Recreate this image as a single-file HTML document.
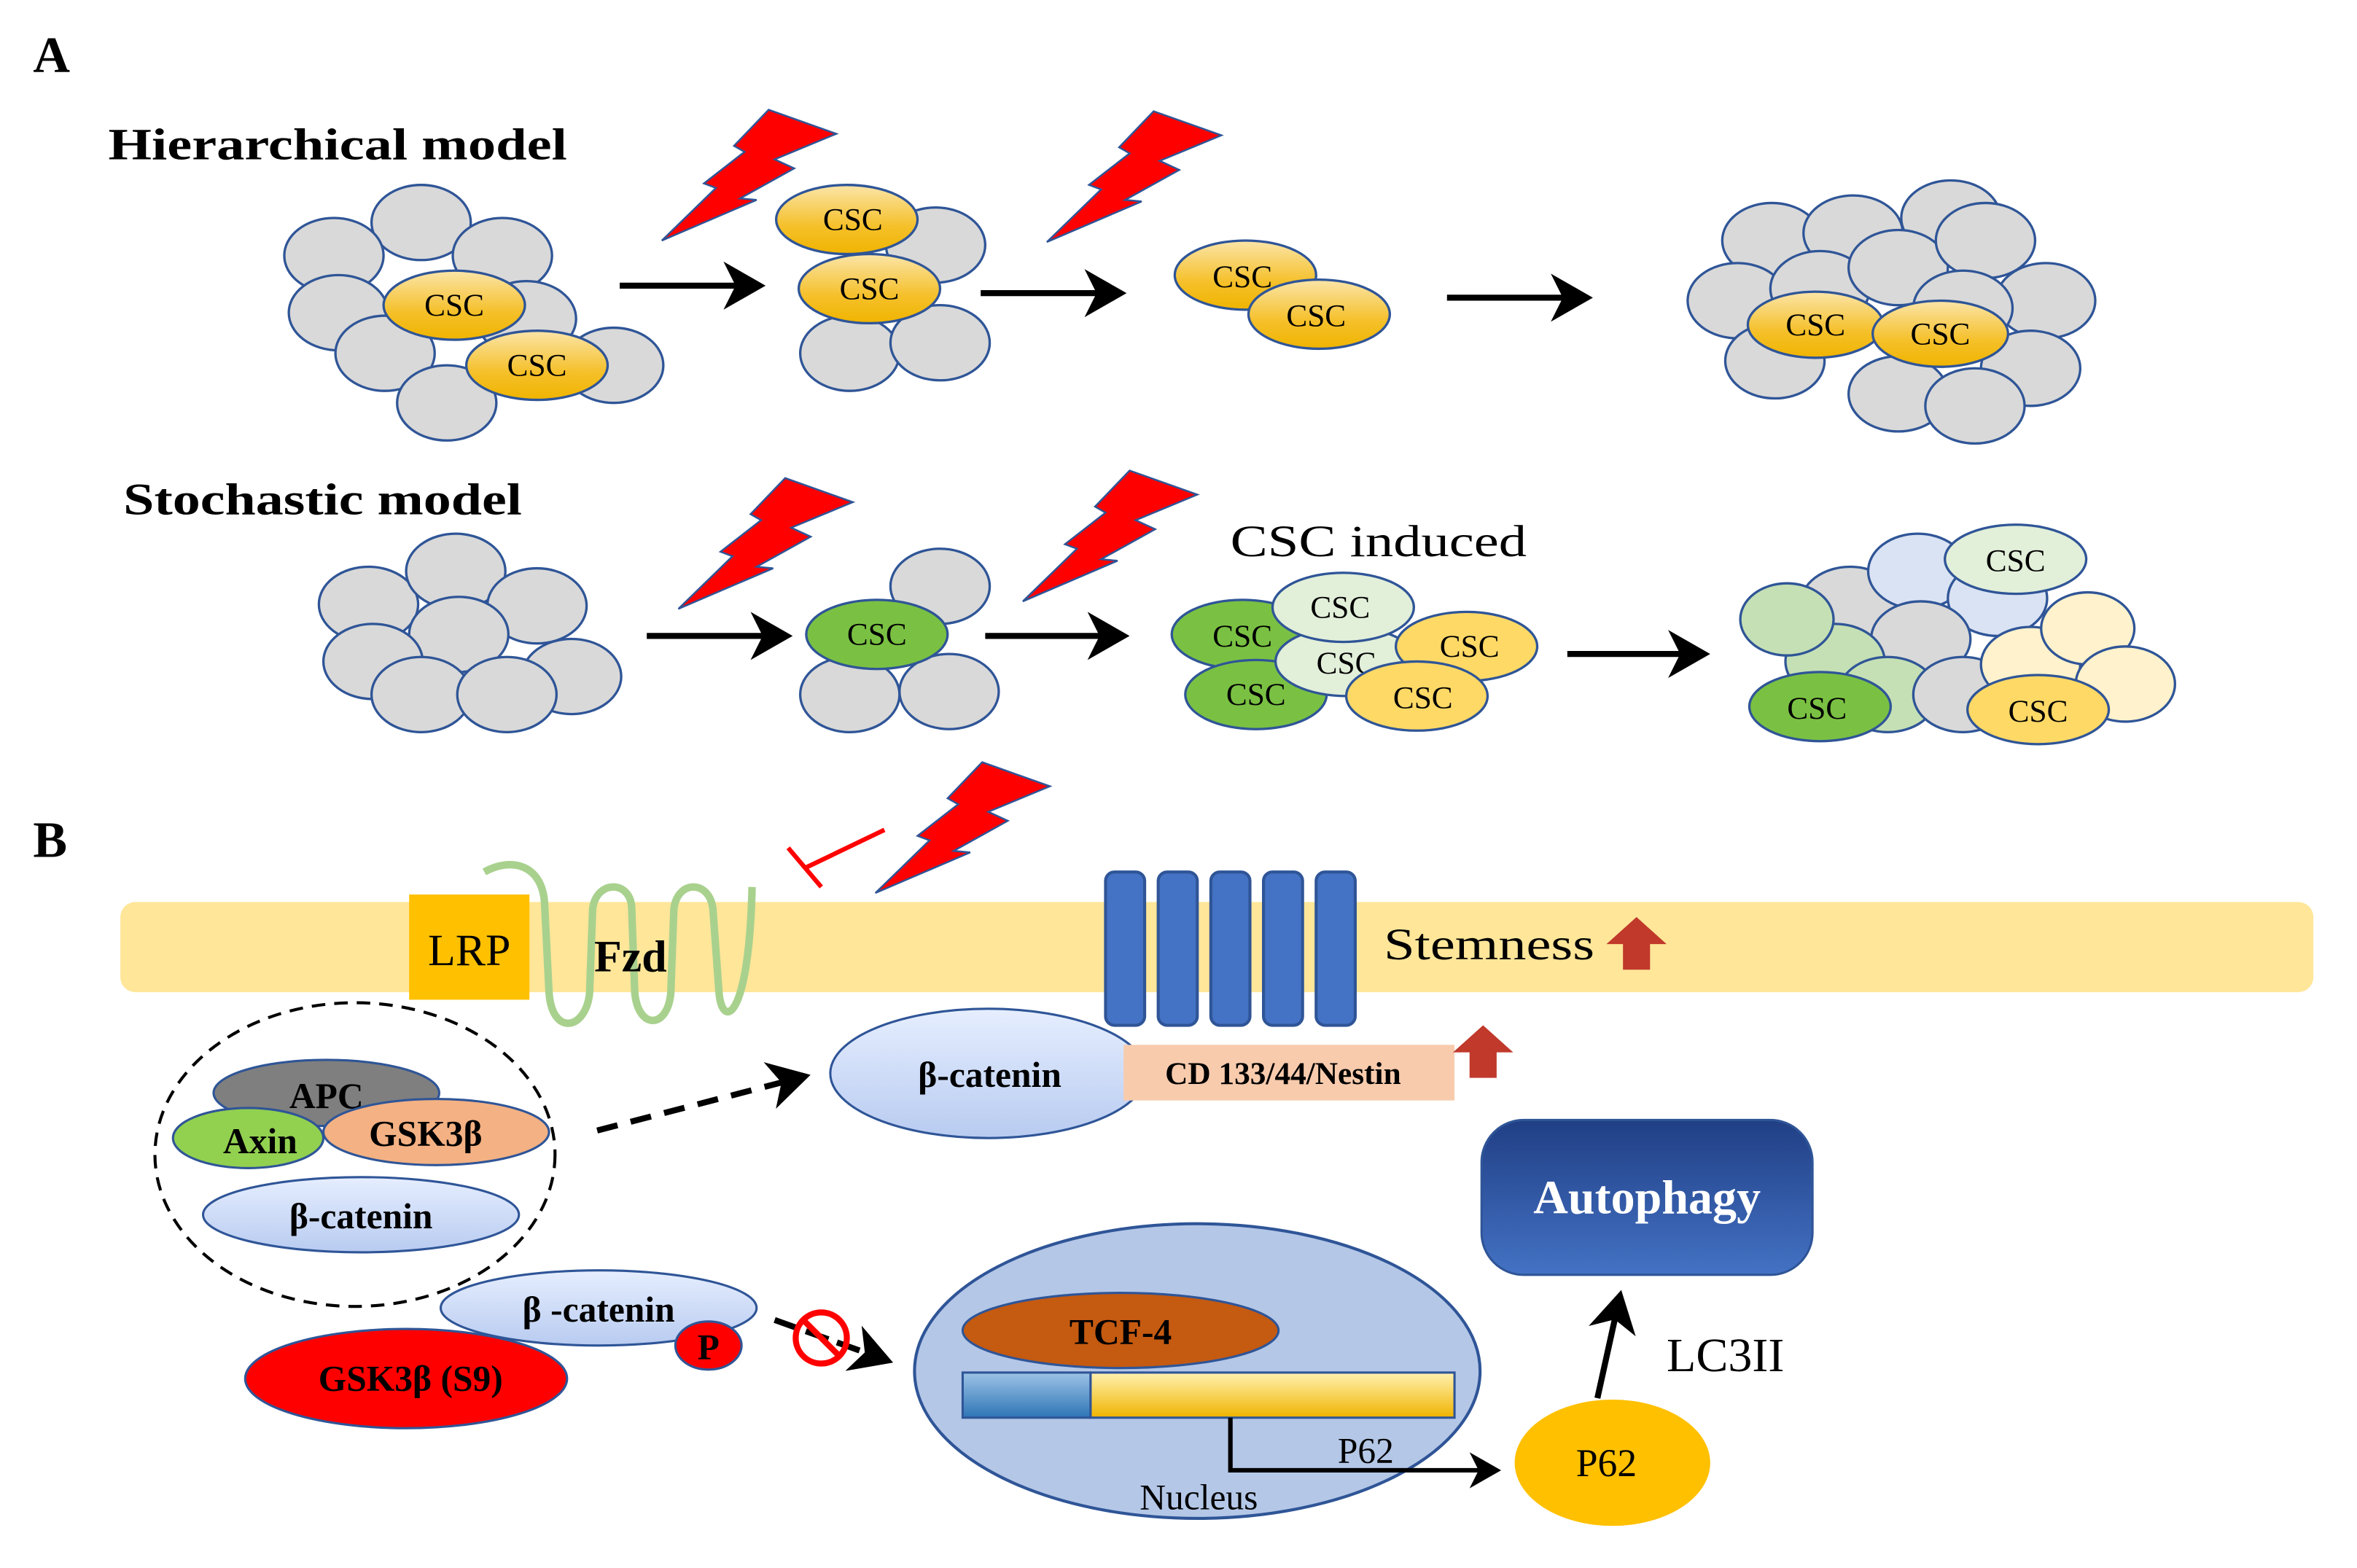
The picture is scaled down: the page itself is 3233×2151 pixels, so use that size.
<!DOCTYPE html>
<html><head><meta charset="utf-8"><style>
html,body{margin:0;padding:0;background:#fff;}
svg{display:block;}
text{font-family:"Liberation Serif",serif;}
</style></head><body>
<svg width="3233" height="2151" viewBox="0 0 1567 1043" preserveAspectRatio="none" xmlns="http://www.w3.org/2000/svg">
<defs>
<linearGradient id="csc" x1="0" y1="0" x2="0" y2="1"><stop offset="0" stop-color="#fbe5a8"/><stop offset="0.6" stop-color="#f5c02a"/><stop offset="1" stop-color="#f0b400"/></linearGradient>
<linearGradient id="bc" x1="0" y1="0" x2="0" y2="1"><stop offset="0" stop-color="#e6eeff"/><stop offset="1" stop-color="#b8cbf0"/></linearGradient>
<linearGradient id="auto" x1="0" y1="0" x2="0" y2="1"><stop offset="0" stop-color="#203f85"/><stop offset="1" stop-color="#4472c4"/></linearGradient>
<linearGradient id="bar" x1="0" y1="0" x2="0" y2="1"><stop offset="0" stop-color="#fff2b0"/><stop offset="1" stop-color="#f0b400"/></linearGradient>
<linearGradient id="barb" x1="0" y1="0" x2="0" y2="1"><stop offset="0" stop-color="#9dc3e6"/><stop offset="1" stop-color="#2e75b6"/></linearGradient>
<marker id="ah" markerWidth="8" markerHeight="8" refX="6" refY="4" orient="auto" markerUnits="strokeWidth"><path d="M0,0 L7,4 L0,8 L2,4 Z" fill="#000"/></marker>
<g id="bolt"><path d="M71,0 L116,16 L75,33 L88,39 L52,59 L63,60 L0,87 L36,52 L28,49 L55,28 L48,24 Z" fill="#ff0000" stroke="#2f5597" stroke-width="1.2" stroke-linejoin="miter"/></g>
</defs>
<style>
.g{fill:#d9d9d9;stroke:#2f5597;stroke-width:1.6}
.c{fill:url(#csc);stroke:#2f5597;stroke-width:1.6}
.gr{fill:#7ac143;stroke:#2f5597;stroke-width:1.6}
.pg{fill:#e2efd9;stroke:#2f5597;stroke-width:1.6}
.lg{fill:#c5e0b4;stroke:#2f5597;stroke-width:1.6}
.lb{fill:#dae3f3;stroke:#2f5597;stroke-width:1.6}
.py{fill:#fff2cc;stroke:#2f5597;stroke-width:1.6}
.y{fill:#ffd966;stroke:#2f5597;stroke-width:1.6}
.t{font-size:21px;text-anchor:middle}
.ar{stroke:#000;stroke-width:4;fill:none;marker-end:url(#ah)}
</style>
<text x="22" y="48" font-size="34" font-weight="bold">A</text>
<text x="72" y="106" font-size="30" font-weight="bold" textLength="305" lengthAdjust="spacingAndGlyphs">Hierarchical model</text>
<text x="82" y="342" font-size="30" font-weight="bold" textLength="265" lengthAdjust="spacingAndGlyphs">Stochastic model</text>

<g>
<ellipse class="g" cx="280" cy="148" rx="33" ry="25"/><ellipse class="g" cx="222" cy="170" rx="33" ry="25"/><ellipse class="g" cx="334" cy="170" rx="33" ry="25"/>
<ellipse class="g" cx="350" cy="212" rx="33" ry="25"/><ellipse class="g" cx="225" cy="208" rx="33" ry="25"/><ellipse class="g" cx="256" cy="235" rx="33" ry="25"/>
<ellipse class="g" cx="408" cy="243" rx="33" ry="25"/><ellipse class="g" cx="297" cy="268" rx="33" ry="25"/>
<ellipse class="c" cx="302" cy="203" rx="47" ry="23"/><text class="t" x="302" y="210">CSC</text>
<ellipse class="c" cx="357" cy="243" rx="47" ry="23"/><text class="t" x="357" y="250">CSC</text>
</g>
<line class="ar" x1="412" y1="190" x2="505" y2="190"/>
<use href="#bolt" x="440" y="73"/>
<ellipse class="g" cx="622" cy="163" rx="33" ry="25"/><ellipse class="g" cx="565" cy="235" rx="33" ry="25"/><ellipse class="g" cx="625" cy="228" rx="33" ry="25"/>
<ellipse class="c" cx="563" cy="146" rx="47" ry="23"/><text class="t" x="567" y="153">CSC</text>
<ellipse class="c" cx="578" cy="192" rx="47" ry="23"/><text class="t" x="578" y="199">CSC</text>
<line class="ar" x1="652" y1="195" x2="745" y2="195"/>
<use href="#bolt" x="696" y="74"/>
<ellipse class="c" cx="828" cy="183" rx="47" ry="23"/><text class="t" x="826" y="191">CSC</text>
<ellipse class="c" cx="877" cy="209" rx="47" ry="23"/><text class="t" x="875" y="217">CSC</text>
<line class="ar" x1="962" y1="198" x2="1055" y2="198"/>
<g>
<ellipse class="g" cx="1178" cy="160" rx="33" ry="25"/><ellipse class="g" cx="1232" cy="155" rx="33" ry="25"/><ellipse class="g" cx="1297" cy="145" rx="33" ry="25"/>
<ellipse class="g" cx="1155" cy="200" rx="33" ry="25"/><ellipse class="g" cx="1210" cy="192" rx="33" ry="25"/><ellipse class="g" cx="1262" cy="178" rx="33" ry="25"/>
<ellipse class="g" cx="1320" cy="160" rx="33" ry="25"/><ellipse class="g" cx="1360" cy="200" rx="33" ry="25"/><ellipse class="g" cx="1305" cy="205" rx="33" ry="25"/>
<ellipse class="g" cx="1180" cy="240" rx="33" ry="25"/><ellipse class="g" cx="1350" cy="245" rx="33" ry="25"/><ellipse class="g" cx="1262" cy="262" rx="33" ry="25"/>
<ellipse class="g" cx="1313" cy="270" rx="33" ry="25"/>
<ellipse class="c" cx="1207" cy="216" rx="45" ry="22"/><text class="t" x="1207" y="223">CSC</text>
<ellipse class="c" cx="1290" cy="222" rx="45" ry="22"/><text class="t" x="1290" y="229">CSC</text>
</g>

<g>
<ellipse class="g" cx="245" cy="402" rx="33" ry="25"/><ellipse class="g" cx="303" cy="380" rx="33" ry="25"/><ellipse class="g" cx="357" cy="403" rx="33" ry="25"/>
<ellipse class="g" cx="305" cy="422" rx="33" ry="25"/><ellipse class="g" cx="248" cy="440" rx="33" ry="25"/><ellipse class="g" cx="380" cy="450" rx="33" ry="25"/>
<ellipse class="g" cx="280" cy="462" rx="33" ry="25"/><ellipse class="g" cx="337" cy="462" rx="33" ry="25"/>
</g>
<line class="ar" x1="430" y1="423" x2="523" y2="423"/>
<use href="#bolt" x="451" y="318"/>
<ellipse class="g" cx="625" cy="390" rx="33" ry="25"/><ellipse class="g" cx="565" cy="462" rx="33" ry="25"/><ellipse class="g" cx="631" cy="460" rx="33" ry="25"/>
<ellipse class="gr" cx="583" cy="422" rx="47" ry="23"/><text class="t" x="583" y="429">CSC</text>
<line class="ar" x1="655" y1="423" x2="747" y2="423"/>
<use href="#bolt" x="680" y="313"/>
<text x="818" y="370" font-size="30" textLength="197" lengthAdjust="spacingAndGlyphs">CSC induced</text>
<ellipse class="gr" cx="826" cy="422" rx="47" ry="23"/><text class="t" x="826" y="430">CSC</text>
<ellipse class="gr" cx="835" cy="462" rx="47" ry="23"/><text class="t" x="835" y="469">CSC</text>
<ellipse class="pg" cx="895" cy="440" rx="47" ry="23"/><text class="t" x="895" y="448">CSC</text>
<ellipse class="pg" cx="893" cy="404" rx="47" ry="23"/><text class="t" x="891" y="411">CSC</text>
<ellipse class="y" cx="975" cy="430" rx="47" ry="23"/><text class="t" x="977" y="437">CSC</text>
<ellipse class="y" cx="942" cy="463" rx="47" ry="23"/><text class="t" x="946" y="471">CSC</text>
<line class="ar" x1="1042" y1="435" x2="1133" y2="435"/>
<g>
<ellipse class="g" cx="1230" cy="402" rx="33" ry="25"/><ellipse class="lb" cx="1275" cy="380" rx="33" ry="25"/><ellipse class="lb" cx="1328" cy="398" rx="33" ry="25"/>
<ellipse class="g" cx="1277" cy="425" rx="33" ry="25"/><ellipse class="lg" cx="1220" cy="440" rx="33" ry="25"/><ellipse class="lg" cx="1255" cy="462" rx="33" ry="25"/>
<ellipse class="g" cx="1305" cy="462" rx="33" ry="25"/><ellipse class="py" cx="1350" cy="442" rx="33" ry="25"/>
<ellipse class="py" cx="1388" cy="418" rx="31" ry="24"/><ellipse class="py" cx="1413" cy="455" rx="33" ry="25"/>
<ellipse class="lg" cx="1188" cy="412" rx="31" ry="24"/>
<ellipse class="pg" cx="1340" cy="372" rx="47" ry="23"/><text class="t" x="1340" y="380">CSC</text>
<ellipse class="gr" cx="1210" cy="470" rx="47" ry="23"/><text class="t" x="1208" y="478">CSC</text>
<ellipse class="y" cx="1355" cy="472" rx="47" ry="23"/><text class="t" x="1355" y="480">CSC</text>
</g>

<text x="22" y="570" font-size="34" font-weight="bold">B</text>
<rect x="80" y="600" width="1458" height="60" rx="10" fill="#ffe699"/>
<rect x="272" y="595" width="80" height="70" fill="#ffc000"/>
<text x="312" y="642" font-size="30" text-anchor="middle">LRP</text>
<path d="M322,580 C340,570 360,575 362,600 L365,660 C367,690 390,685 392,660 L394,605 C396,585 420,585 420,605 L422,660 C424,685 444,685 446,660 L448,605 C450,585 472,585 474,605 L478,660 C480,685 498,680 500,590" fill="none" stroke="#a9d18e" stroke-width="5"/>
<text x="395" y="646" font-size="30" font-weight="bold">Fzd</text>
<g fill="none" stroke="#ff0000" stroke-width="3"><line x1="536" y1="577" x2="588" y2="552"/><line x1="524" y1="564" x2="546" y2="590"/></g>
<use href="#bolt" x="582" y="507"/>
<g fill="#4472c4" stroke="#2f5597" stroke-width="2">
<rect x="735" y="580" width="26" height="102" rx="6"/><rect x="770" y="580" width="26" height="102" rx="6"/><rect x="805" y="580" width="26" height="102" rx="6"/><rect x="840" y="580" width="26" height="102" rx="6"/><rect x="875" y="580" width="26" height="102" rx="6"/>
</g>
<text x="920" y="638" font-size="30" textLength="140" lengthAdjust="spacingAndGlyphs">Stemness</text>
<path d="M1088,610 L1108,628 L1097,628 L1097,645 L1079,645 L1079,628 L1068,628 Z" fill="#c0392b"/>
<ellipse cx="236" cy="768" rx="133" ry="101" fill="none" stroke="#000" stroke-width="2" stroke-dasharray="9,6"/>
<ellipse cx="217" cy="727" rx="75" ry="22" fill="#7f7f7f" stroke="#2f5597" stroke-width="1.5"/>
<text x="217" y="737" font-size="24" font-weight="bold" text-anchor="middle">APC</text>
<ellipse cx="165" cy="757" rx="50" ry="20" fill="#92d050" stroke="#2f5597" stroke-width="1.5"/>
<ellipse cx="290" cy="753" rx="75" ry="22" fill="#f4b183" stroke="#2f5597" stroke-width="1.5"/>
<text x="173" y="767" font-size="24" font-weight="bold" text-anchor="middle">Axin</text>
<text x="283" y="762" font-size="24" font-weight="bold" text-anchor="middle">GSK3β</text>
<ellipse cx="240" cy="808" rx="105" ry="25" fill="url(#bc)" stroke="#2f5597" stroke-width="1.5"/>
<text x="240" y="817" font-size="24" font-weight="bold" text-anchor="middle">β-catenin</text>
<line x1="397" y1="752" x2="535" y2="716" stroke="#000" stroke-width="4" stroke-dasharray="14,9" marker-end="url(#ah)"/>
<ellipse cx="657" cy="714" rx="105" ry="43" fill="url(#bc)" stroke="#2f5597" stroke-width="1.5"/>
<text x="658" y="723" font-size="24" font-weight="bold" text-anchor="middle">β-catenin</text>
<rect x="747" y="695" width="220" height="37" fill="#f8cbad"/>
<text x="853" y="721" font-size="21" font-weight="bold" text-anchor="middle">CD 133/44/Nestin</text>
<path d="M986,682 L1006,700 L995,700 L995,717 L977,717 L977,700 L966,700 Z" fill="#c0392b"/>
<rect x="985" y="745" width="220" height="103" rx="28" fill="url(#auto)" stroke="#2f5597" stroke-width="1.5"/>
<text x="1095" y="807" font-size="32" font-weight="bold" fill="#fff" text-anchor="middle">Autophagy</text>
<ellipse cx="398" cy="870" rx="105" ry="25" fill="url(#bc)" stroke="#2f5597" stroke-width="1.5"/>
<text x="398" y="879" font-size="24" font-weight="bold" text-anchor="middle">β -catenin</text>
<ellipse cx="270" cy="917" rx="107" ry="33" fill="#ff0000" stroke="#2f5597" stroke-width="1.5"/>
<text x="273" y="925" font-size="24" font-weight="bold" text-anchor="middle">GSK3β (S9)</text>
<ellipse cx="471" cy="895" rx="22" ry="16" fill="#ff0000" stroke="#2f5597" stroke-width="1.5"/>
<text x="471" y="904" font-size="24" font-weight="bold" text-anchor="middle">P</text>
<line x1="515" y1="878" x2="590" y2="905" stroke="#000" stroke-width="4" stroke-dasharray="16,6" marker-end="url(#ah)"/>
<circle cx="546" cy="890" r="17" fill="none" stroke="#ff0000" stroke-width="4"/>
<line x1="534" y1="878" x2="558" y2="902" stroke="#ff0000" stroke-width="4"/>
<ellipse cx="796" cy="912" rx="188" ry="98" fill="#b4c7e7" stroke="#2f5597" stroke-width="2"/>
<ellipse cx="745" cy="885" rx="105" ry="25" fill="#c55a11" stroke="#2f5597" stroke-width="1.5"/>
<text x="745" y="894" font-size="24" font-weight="bold" text-anchor="middle">TCF-4</text>
<rect x="725" y="913" width="242" height="30" fill="url(#bar)" stroke="#2f5597" stroke-width="1.5"/>
<rect x="640" y="913" width="85" height="30" fill="url(#barb)" stroke="#2f5597" stroke-width="1.5"/>
<path d="M818,943 L818,978 L995,978" fill="none" stroke="#000" stroke-width="3" marker-end="url(#ah)"/>
<text x="908" y="973" font-size="24" text-anchor="middle">P62</text>
<text x="797" y="1004" font-size="24" text-anchor="middle">Nucleus</text>
<ellipse cx="1072" cy="973" rx="65" ry="42" fill="#ffc000"/>
<text x="1068" y="982" font-size="26" text-anchor="middle">P62</text>
<line class="ar" x1="1062" y1="930" x2="1077" y2="862"/>
<text x="1108" y="912" font-size="32">LC3II</text>
</svg>
</body></html>
